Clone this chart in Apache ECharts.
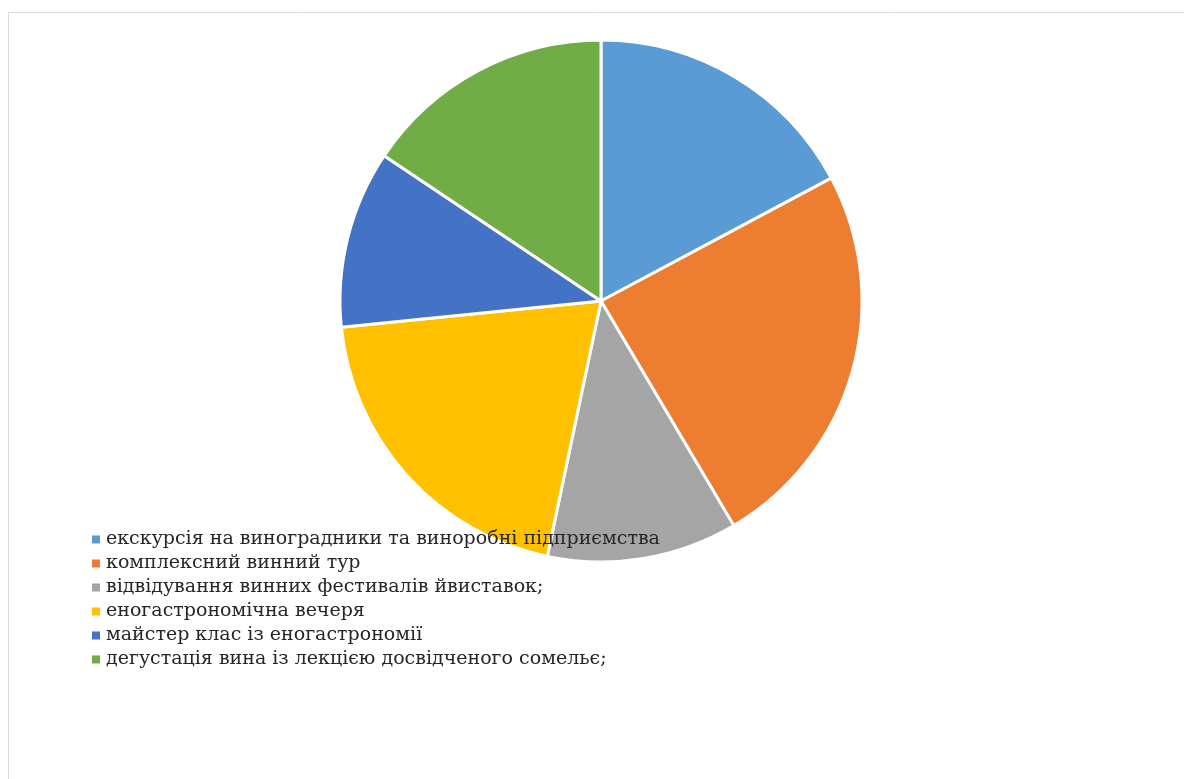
<!DOCTYPE html>
<html>
<head>
<meta charset="utf-8">
<script src="https://cdn.jsdelivr.net/npm/echarts@6/dist/echarts.min.js"></script>
<style>
  html, body { margin: 0; padding: 0; background: #fff; }
  #main { width: 1184px; height: 779px; }
</style>
</head>
<body>
<div id="main"></div>
<script>
// категорії та частки (оцінено з рисунка)
var categories = [
  'екскурсія на виноградники та виноробні підприємства',
  'комплексний винний тур',
  'відвідування винних фестивалів йвиставок;',
  'еногастрономічна вечеря',
  'майстер клас із еногастрономії',
  'дегустація вина із лекцією досвідченого сомельє;'
]
var values = [17.2, 24.3, 11.8, 20.1, 11.0, 15.6]
var colors = ['#5B9BD5', '#ED7D31', '#A5A5A5', '#FFC000', '#4472C4', '#70AD47']

var data = []
for (var i = 0; i < categories.length; i++) {
  data.push({ name: categories[i], value: values[i] })
}

var myChart = echarts.init(document.getElementById('main'))

var option = {
  animation: false,
  color: colors,
  graphic: [
    {
      type: 'rect',
      shape: { x: 8.5, y: 12.5, width: 1200, height: 800 },
      style: { fill: 'none', stroke: '#dcdcdc', lineWidth: 1 },
      z: 0
    }
  ],
  legend: {
    orient: 'vertical',
    left: 85,
    top: 525,
    icon: 'rect',
    itemWidth: 10,
    itemHeight: 10,
    itemGap: 5,
    textStyle: {
      fontFamily: 'DejaVu Serif',
      fontSize: 19,
      color: '#262626'
    }
  },
  series: [
    {
      type: 'pie',
      center: [601, 301],
      radius: 261,
      startAngle: 90,
      clockwise: true,
      label: { show: false },
      labelLine: { show: false },
      itemStyle: { borderColor: '#fff', borderWidth: 3 },
      data: data
    }
  ]
}

myChart.setOption(option)
</script>
</body>
</html>
